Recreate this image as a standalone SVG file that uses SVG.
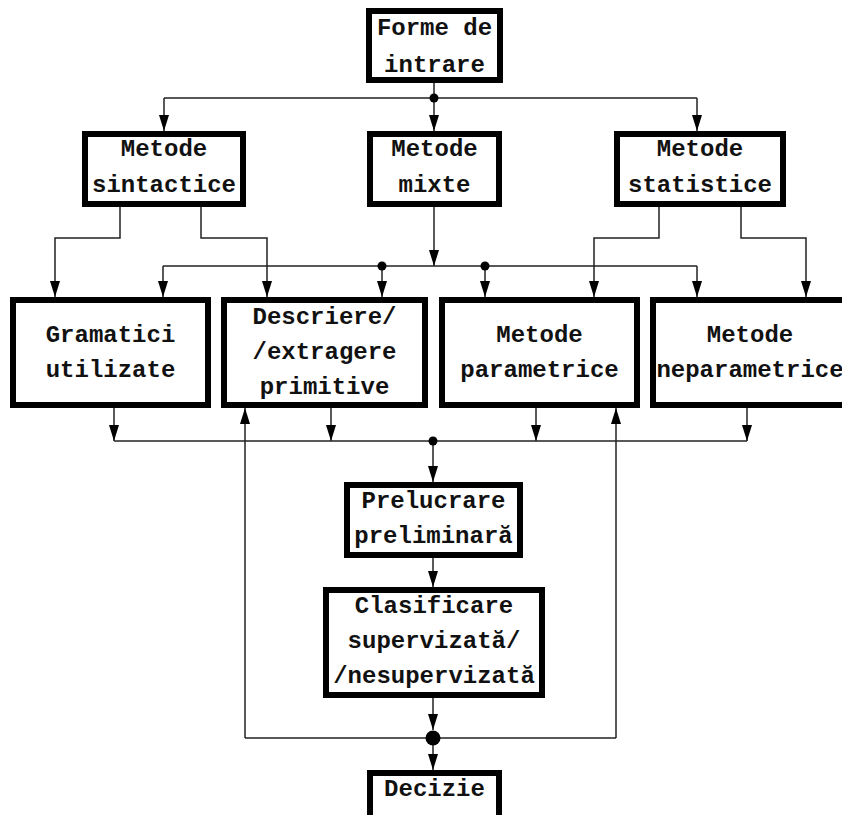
<svg xmlns="http://www.w3.org/2000/svg" width="842" height="815" viewBox="0 0 842 815">
<style>
.box{fill:#fff;stroke:#000;stroke-width:6}
.t{font-family:"Liberation Mono","DejaVu Sans Mono",monospace;font-size:24px;font-weight:bold;fill:#111;text-anchor:middle}
.c{fill:none;stroke:#222;stroke-width:1.5}
.a{marker-end:url(#arr)}
.dot{fill:#000}
</style>
<defs>
<marker id="arr" markerUnits="userSpaceOnUse" markerWidth="17" markerHeight="11" refX="16" refY="5" orient="auto">
<path d="M0,0 L16,5 L0,10 z" fill="#000"/>
</marker>
</defs>
<rect width="842" height="815" fill="#fff"/>
<g id="connectors">
<path class="c" d="M434,83 V98 M164,98 H697"/>
<path class="c a" d="M164,98 V131"/>
<path class="c a" d="M434,98 V131"/>
<path class="c a" d="M697,98 V131"/>
<path class="c a" d="M120,207 V238 H55 V297"/>
<path class="c a" d="M201,207 V238 H267 V297"/>
<path class="c a" d="M434,207 V266"/>
<path class="c" d="M163,266 H697"/>
<path class="c a" d="M163,266 V297"/>
<path class="c a" d="M382,266 V297"/>
<path class="c a" d="M485,266 V297"/>
<path class="c a" d="M697,266 V297"/>
<path class="c a" d="M659,207 V238 H594 V297"/>
<path class="c a" d="M741,207 V238 H806 V297"/>
<path class="c a" d="M114,408 V441"/>
<path class="c a" d="M331,408 V441"/>
<path class="c a" d="M536,408 V441"/>
<path class="c a" d="M747,408 V441"/>
<path class="c" d="M114,441 H747"/>
<path class="c a" d="M433,441 V482"/>
<path class="c a" d="M433,558 V587"/>
<path class="c a" d="M433,698 V730"/>
<path class="c a" d="M433,738 V770"/>
<path class="c" d="M245,738 H616"/>
<path class="c a" d="M245,738 V408"/>
<path class="c a" d="M616,738 V408"/>
<circle class="dot" cx="434" cy="98" r="4.5"/>
<circle class="dot" cx="382" cy="266" r="4.5"/>
<circle class="dot" cx="485" cy="266" r="4.5"/>
<circle class="dot" cx="433" cy="441" r="4.5"/>
<circle class="dot" cx="433" cy="738" r="7.5"/>
</g>
<g id="forme">
<rect class="box" x="369" y="11" width="131" height="69"/>
<text class="t" x="434.5" y="35">Forme de</text>
<text class="t" x="434.5" y="72">intrare</text>
</g>
<g id="sintactice">
<rect class="box" x="85" y="134" width="158" height="70"/>
<text class="t" x="164" y="156">Metode</text>
<text class="t" x="164" y="192">sintactice</text>
</g>
<g id="mixte">
<rect class="box" x="370" y="134" width="129" height="70"/>
<text class="t" x="434.5" y="156">Metode</text>
<text class="t" x="434.5" y="192">mixte</text>
</g>
<g id="statistice">
<rect class="box" x="617" y="134" width="166" height="70"/>
<text class="t" x="700" y="156">Metode</text>
<text class="t" x="700" y="192">statistice</text>
</g>
<g id="gramatici">
<rect class="box" x="13" y="300" width="195" height="105"/>
<text class="t" x="110.5" y="342">Gramatici</text>
<text class="t" x="110.5" y="377">utilizate</text>
</g>
<g id="descriere">
<rect class="box" x="224" y="300" width="201" height="105"/>
<text class="t" x="324.5" y="324">Descriere/</text>
<text class="t" x="324.5" y="359">/extragere</text>
<text class="t" x="324.5" y="394">primitive</text>
</g>
<g id="parametrice">
<rect class="box" x="442" y="300" width="195" height="105"/>
<text class="t" x="539.5" y="342">Metode</text>
<text class="t" x="539.5" y="377">parametrice</text>
</g>
<g id="neparametrice">
<rect class="box" x="653" y="300" width="195" height="105"/>
<text class="t" x="750" y="342">Metode</text>
<text class="t" x="750" y="377">neparametrice</text>
</g>
<g id="prelucrare">
<rect class="box" x="347" y="485" width="173" height="70"/>
<text class="t" x="433.5" y="508">Prelucrare</text>
<text class="t" x="433.5" y="543">preliminară</text>
</g>
<g id="clasificare">
<rect class="box" x="326" y="590" width="216" height="105"/>
<text class="t" x="434" y="613">Clasificare</text>
<text class="t" x="434" y="648">supervizată/</text>
<text class="t" x="434" y="683">/nesupervizată</text>
</g>
<g id="decizie">
<rect class="box" x="370" y="773" width="129" height="70"/>
<text class="t" x="434.5" y="796">Decizie</text>
</g>
</svg>
